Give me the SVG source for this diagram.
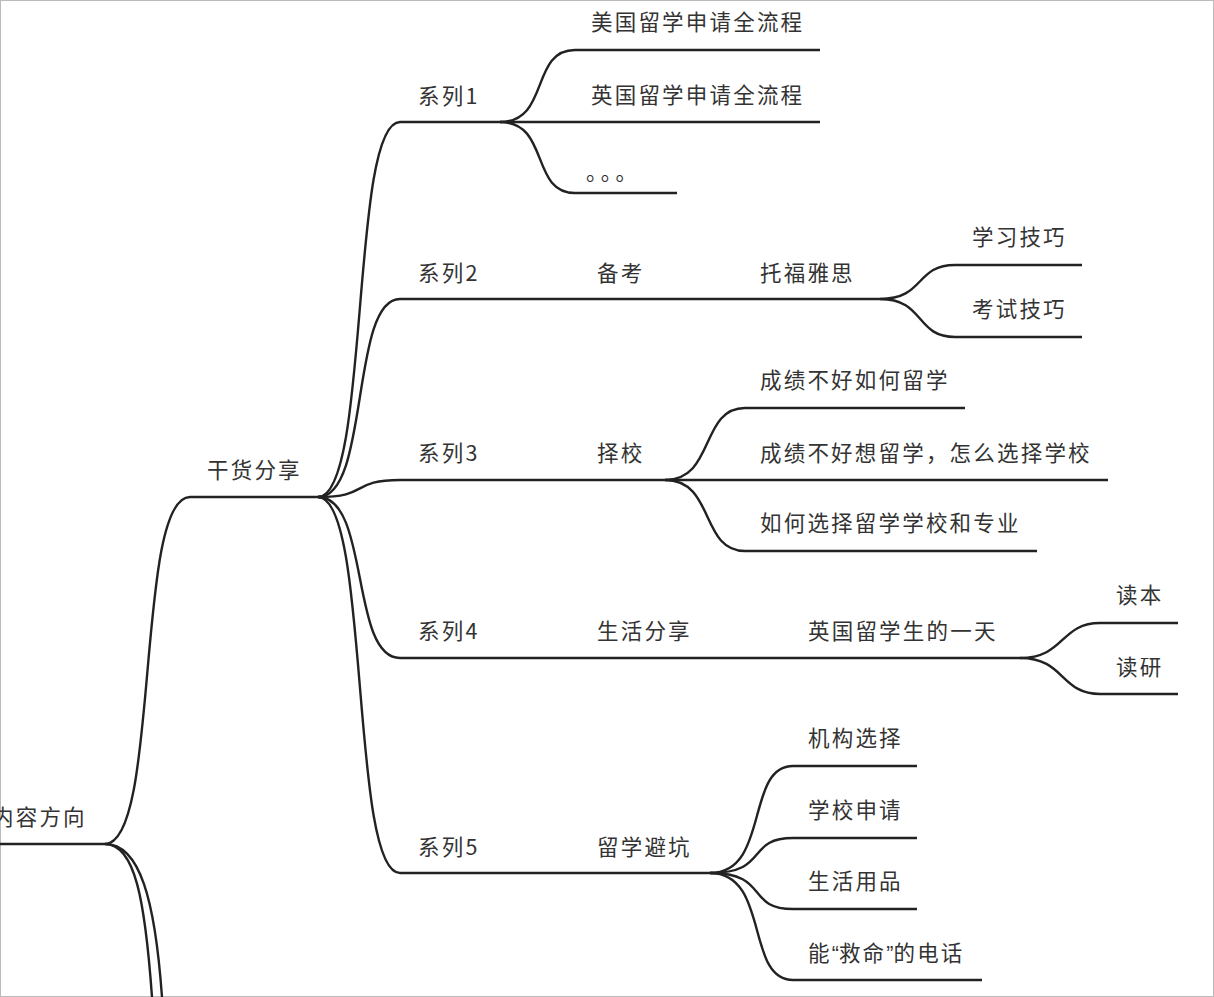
<svg xmlns="http://www.w3.org/2000/svg" width="1214" height="997" viewBox="0 0 1214 997">
<style>
.t{font-family:"Noto Sans CJK SC","Liberation Sans",sans-serif;font-size:21.5px;letter-spacing:2.2px;fill:#333}
.q{font-family:"Liberation Sans",sans-serif;letter-spacing:0}
.c path{fill:none;stroke:#222;stroke-width:2.4}
</style>
<rect x="0.5" y="0.5" width="1213" height="996" fill="#fff" stroke="#bbb"/>
<g class="c" id="connectors">
<path d="M0,844H105"/>
<path d="M105,844C160,844 135,497 190,497H318"/>
<path d="M105,844C135,844 145,900 152,997"/>
<path d="M105,844C140,844 155,900 162,997"/>
<path d="M318,497C370,497 350,122 400,122H500"/>
<path d="M318,497C370,497 350,299 400,299H880"/>
<path d="M318,497C370,497 350,480 400,480H665"/>
<path d="M318,497C370,497 350,658 400,658H1020"/>
<path d="M318,497C370,497 350,873 400,873H710"/>
<path d="M500,122C550,122 530,50 575,50H820"/>
<path d="M500,122H820"/>
<path d="M500,122C550,122 530,193 575,193H677"/>
<path d="M880,299C925,299 915,265 955,265H1082"/>
<path d="M880,299C925,299 915,337 955,337H1082"/>
<path d="M665,480C715,480 700,408 745,408H965"/>
<path d="M665,480H1108"/>
<path d="M665,480C715,480 700,551 745,551H1037"/>
<path d="M1020,658C1065,658 1060,623 1100,623H1178"/>
<path d="M1020,658C1065,658 1060,694 1100,694H1178"/>
<path d="M710,873C770,873 745,766 793,766H917"/>
<path d="M710,873C770,873 745,838 793,838H917"/>
<path d="M710,873C770,873 745,909 793,909H917"/>
<path d="M710,873C770,873 745,980 793,980H982"/>
</g>
<g id="n-root"><text class="t" x="-8" y="825">内容方向</text></g>
<g id="n-ganhuo"><text class="t" x="207" y="478">干货分享</text></g>
<g id="n-s1"><text class="t" x="418" y="104">系列1</text></g>
<g id="n-s2"><text class="t" x="418" y="281">系列2</text></g>
<g id="n-s3"><text class="t" x="418" y="461">系列3</text></g>
<g id="n-s4"><text class="t" x="418" y="639">系列4</text></g>
<g id="n-s5"><text class="t" x="418" y="855">系列5</text></g>
<g id="n-us"><text class="t" x="591" y="30">美国留学申请全流程</text></g>
<g id="n-uk"><text class="t" x="591" y="103">英国留学申请全流程</text></g>
<g id="n-dots"><text class="t" x="586" y="180" style="letter-spacing:4px">。。。</text></g>
<g id="n-beikao"><text class="t" x="597" y="281">备考</text></g>
<g id="n-toefl"><text class="t" x="760" y="281">托福雅思</text></g>
<g id="n-xuexi"><text class="t" x="972" y="245">学习技巧</text></g>
<g id="n-kaoshi"><text class="t" x="972" y="317">考试技巧</text></g>
<g id="n-zexiao"><text class="t" x="597" y="461">择校</text></g>
<g id="n-c1"><text class="t" x="760" y="388">成绩不好如何留学</text></g>
<g id="n-c2"><text class="t" x="760" y="461">成绩不好想留学，怎么选择学校</text></g>
<g id="n-c3"><text class="t" x="760" y="531">如何选择留学学校和专业</text></g>
<g id="n-life"><text class="t" x="597" y="639">生活分享</text></g>
<g id="n-day"><text class="t" x="808" y="639">英国留学生的一天</text></g>
<g id="n-ben"><text class="t" x="1116" y="603">读本</text></g>
<g id="n-yan"><text class="t" x="1116" y="675">读研</text></g>
<g id="n-bikeng"><text class="t" x="597" y="855">留学避坑</text></g>
<g id="n-jg"><text class="t" x="808" y="746">机构选择</text></g>
<g id="n-xx"><text class="t" x="808" y="818">学校申请</text></g>
<g id="n-sh"><text class="t" x="808" y="889">生活用品</text></g>
<g id="n-dh"><text class="t" x="808" y="961">能<tspan class="q">“</tspan>救命<tspan class="q">”</tspan>的电话</text></g>
</svg>
